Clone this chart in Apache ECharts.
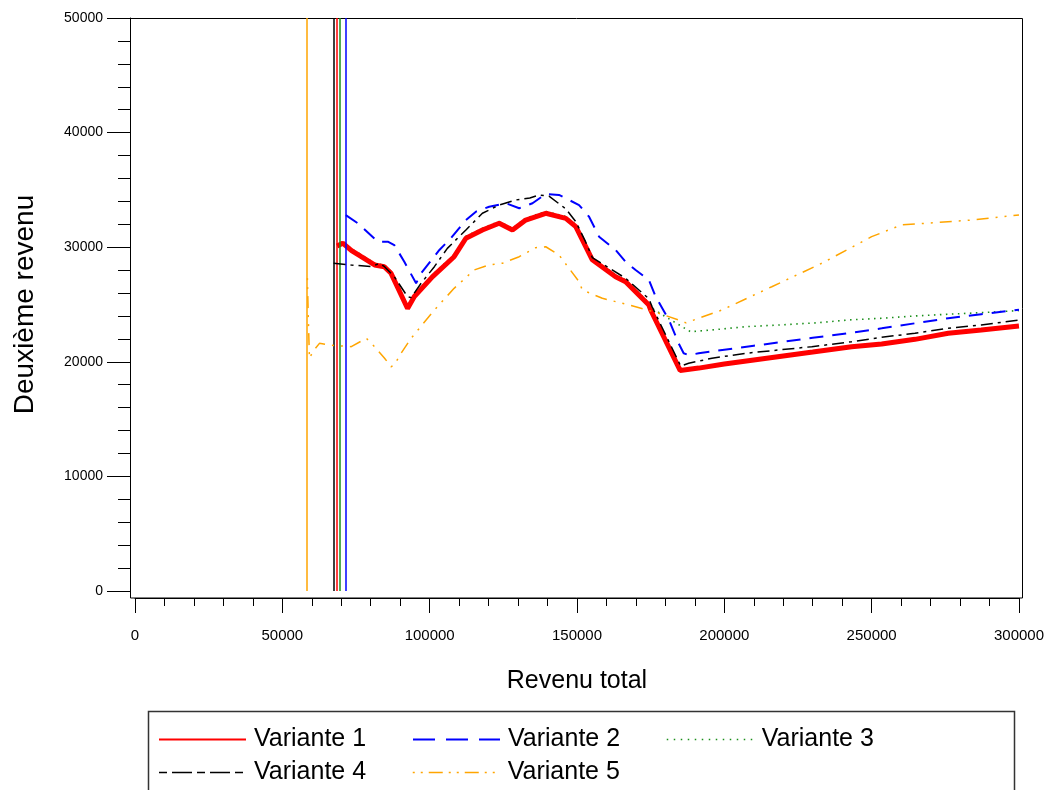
<!DOCTYPE html>
<html>
<head>
<meta charset="utf-8">
<script src="https://cdn.jsdelivr.net/npm/echarts@6/dist/echarts.min.js"></script>
<style>html,body{margin:0;padding:0;background:#fff;}#chart{width:1047px;height:790px;}</style>
</head>
<body>
<div id="chart"></div>
<script>
const seriesNames = ['Variante 1', 'Variante 2', 'Variante 3', 'Variante 4', 'Variante 5'];
const xTicks = [0, 50000, 100000, 150000, 200000, 250000, 300000];
const yTicks = [0, 10000, 20000, 30000, 40000, 50000];
// x positions of the vertical reference lines (one per variant)
const refLines = [68600, 71550, 69400, 67400, 58200];

const variante1 = [[68600,30100],[70500,30350],[73500,29700],[76800,29170],[81300,28450],[84600,28300],[86900,27720],[92500,24650],[94800,25700],[101000,27430],[108300,29170],[112300,30780],[117900,31500],[123600,32090],[128100,31500],[132600,32370],[139400,32960],[146200,32520],[149600,31790],[155200,28900],[163100,27430],[166500,26990],[174400,24950],[175000,24520],[185000,19250],[191300,19450],[200000,19800],[210000,20150],[220000,20500],[230000,20850],[243200,21320],[253400,21550],[264700,21960],[276000,22490],[287200,22780],[300000,23120]];
const variante2 = [[71550,32800],[75600,32090],[82400,30480],[85800,30480],[88000,30190],[91400,28730],[95400,26850],[97100,27720],[103300,29760],[107200,30780],[112300,32370],[115700,33100],[120200,33530],[125900,33830],[130400,33400],[134900,33830],[139400,34650],[143900,34560],[150700,33680],[154100,32660],[157500,30920],[163100,29760],[166500,28730],[169900,28010],[174400,27140],[176700,25680],[181200,23650],[184500,21610],[186200,20740],[187900,20590],[191300,20740],[200000,21050],[210000,21400],[220000,21750],[230000,22100],[242100,22490],[253400,22920],[264700,23360],[276000,23800],[287200,24150],[300000,24550]];
const variante3 = [[69400,30300],[70500,30500],[73500,29850],[76800,29350],[81300,28600],[84600,28450],[86900,27900],[92500,24850],[94800,25850],[101000,27600],[108300,29350],[112300,30950],[117900,31650],[123600,32250],[128100,31650],[132600,32530],[139400,33120],[146200,32680],[149600,31950],[155200,29050],[163100,27600],[166500,27150],[174400,25150],[175500,24670],[180000,23940],[185700,23060],[188500,22630],[195800,22780],[207100,23060],[218400,23210],[231900,23410],[242100,23650],[253400,23800],[264700,24000],[276000,24150],[287200,24290],[300000,24470]];
const variante4 = [[67400,28600],[73400,28450],[80200,28300],[83000,28600],[84700,28300],[88000,27430],[92500,25680],[93700,25600],[97100,26850],[101600,28300],[106000,29900],[112300,31500],[117900,32960],[123600,33680],[129200,34120],[134000,34300],[137100,34560],[140500,34450],[146200,33350],[149600,32230],[152900,30480],[155200,29100],[166500,27290],[174400,25500],[175500,24800],[185200,19630],[187900,19870],[195800,20310],[207100,20740],[218400,21030],[229700,21320],[243200,21750],[253400,22140],[264700,22490],[276000,22920],[287200,23210],[300000,23650]];
const variante5 = [[58500,27300],[58800,24000],[59200,20300],[60400,20900],[62600,21610],[66600,21450],[73400,21320],[78500,22050],[81300,21320],[84700,20310],[86900,19570],[88000,19720],[90300,20740],[93700,22050],[101600,24520],[108300,26410],[115100,28010],[120200,28450],[124700,28600],[130400,29170],[136000,29960],[139400,30040],[143900,29320],[147300,28160],[150700,26990],[151800,26270],[158600,25540],[169900,24810],[177800,24230],[184500,23650],[187000,23400],[191300,23800],[199200,24520],[216100,26550],[233100,28600],[250000,30920],[260100,31940],[283900,32370],[300000,32810]];

const seriesData = [variante1, variante2, variante3, variante4, variante5];
const colors = ['#ff0000', '#0000ff', '#1a8f1a', '#000000', '#ffa500'];
const lineStyles = [
  {width: 5, type: 'solid'},
  {width: 2, type: [14, 9]},
  {width: 1.6, type: [1.5, 4.5]},
  {width: 1.5, type: [12, 5, 3, 5]},
  {width: 1.5, type: [2, 7, 2, 7, 12, 7]}
];
const legendLineStyles = [
  {width: 2, type: 'solid'},
  {width: 2, type: [22, 11]},
  {width: 1.5, type: [1.5, 5.5]},
  {width: 1.5, type: [8, 5, 20, 5]},
  {width: 1.5, type: [2, 6, 2, 6, 14, 6]}
];
const zOrder = [3, 4, 2, 5, 6];

const chart = echarts.init(document.getElementById('chart'), null, {renderer: 'canvas'});
const FONT = 'Liberation Sans, Arial, sans-serif';

const series = seriesNames.map((name, i) => ({
  name: name,
  type: 'line',
  data: seriesData[i],
  showSymbol: false,
  symbol: 'none',
  z: zOrder[i],
  color: colors[i],
  lineStyle: Object.assign({color: colors[i]}, lineStyles[i]),
  markLine: {
    silent: true,
    symbol: ['none', 'none'],
    label: {show: false},
    animation: false,
    lineStyle: {color: colors[i], type: 'solid', width: 1.5},
    data: [{xAxis: refLines[i]}]
  }
}));

chart.setOption({
  animation: false,
  backgroundColor: '#ffffff',
  grid: {left: 135, right: 26, top: 18, bottom: 199},
  xAxis: {
    type: 'value', min: xTicks[0], max: xTicks[xTicks.length - 1], interval: xTicks[1] - xTicks[0],
    offset: 7,
    name: 'Revenu total', nameLocation: 'middle', nameGap: 71,
    nameTextStyle: {fontFamily: FONT, fontSize: 25, color: '#000'},
    axisLine: {show: true, onZero: false, lineStyle: {color: '#000', width: 1}},
    axisTick: {show: true, inside: false, length: 15, lineStyle: {color: '#000'}},
    minorTick: {show: true, splitNumber: 5, length: 8, lineStyle: {color: '#000'}},
    axisLabel: {margin: 30, fontFamily: FONT, fontSize: 15, color: '#000', formatter: v => String(v)},
    splitLine: {show: false}
  },
  yAxis: {
    type: 'value', min: yTicks[0], max: yTicks[yTicks.length - 1], interval: yTicks[1] - yTicks[0],
    offset: 5,
    name: 'Deuxième revenu', nameLocation: 'middle', nameGap: 91, nameRotate: 90,
    nameTextStyle: {fontFamily: FONT, fontSize: 28, color: '#000'},
    axisLine: {show: true, onZero: false, lineStyle: {color: '#000', width: 1}},
    axisTick: {show: true, inside: false, length: 23, lineStyle: {color: '#000'}},
    minorTick: {show: true, splitNumber: 5, length: 12, lineStyle: {color: '#000'}},
    axisLabel: {margin: 27, fontFamily: FONT, fontSize: 14, color: '#000', formatter: v => String(v)},
    splitLine: {show: false}
  },
  legend: {
    left: 158, top: 727, width: 800,
    orient: 'horizontal',
    padding: 0,
    itemWidth: 87, itemHeight: 14, itemGap: 8,
    itemStyle: {opacity: 0, borderWidth: 0},
    textStyle: {fontFamily: FONT, fontSize: 25, color: '#000', width: 150, lineHeight: 23, padding: [0, 0, 0, 3]},
    data: seriesNames.map((n, i) => ({name: n, itemStyle: {opacity: 0}, lineStyle: Object.assign({color: colors[i], opacity: 1}, legendLineStyles[i])}))
  },
  graphic: [
    {type: 'rect', silent: true, z: 0, shape: {x: 130.5, y: 18.5, width: 892, height: 579.5}, style: {fill: null, stroke: '#000', lineWidth: 1}},
    {type: 'rect', silent: true, z: 0, shape: {x: 148.5, y: 711.5, width: 866, height: 120}, style: {fill: null, stroke: '#333', lineWidth: 1.5}}
  ],
  series: series
});
</script>
</body>
</html>
